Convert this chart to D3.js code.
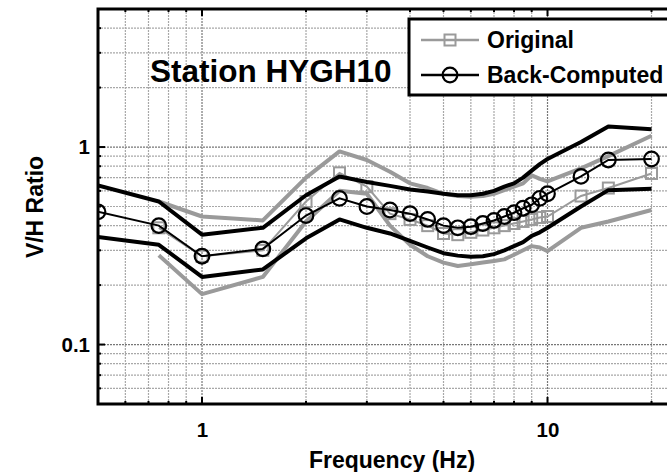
<!DOCTYPE html>
<html>
<head>
<meta charset="utf-8">
<script src="https://cdn.jsdelivr.net/npm/d3@7"></script>
<style>
  html, body { margin: 0; padding: 0; background: #fff; overflow: hidden; }
  svg { display: block; font-family: "Liberation Sans", Arial, Helvetica, sans-serif; font-weight: bold; }
</style>
</head>
<body>
<svg id="chart" width="667" height="472"></svg>
<script>
// Frequencies (Hz) of the back-computed V/H ratios
const freqBack = [0.5, 0.75, 1, 1.5, 2, 2.5, 3, 3.5, 4, 4.5, 5, 5.5, 6, 6.5, 7, 7.5, 8, 8.5, 9, 9.5, 10, 12.5, 15, 20];
const backComputed = [0.47, 0.40, 0.28, 0.305, 0.45, 0.55, 0.50, 0.48, 0.46, 0.43, 0.40, 0.39, 0.395, 0.41, 0.425, 0.445, 0.465, 0.49, 0.51, 0.55, 0.58, 0.71, 0.86, 0.87];
const backUpper = [0.64, 0.53, 0.36, 0.39, 0.57, 0.71, 0.665, 0.636, 0.61, 0.595, 0.58, 0.57, 0.57, 0.58, 0.60, 0.63, 0.655, 0.70, 0.76, 0.82, 0.87, 1.06, 1.27, 1.23];
const backLower = [0.35, 0.32, 0.22, 0.24, 0.345, 0.43, 0.39, 0.365, 0.335, 0.31, 0.29, 0.282, 0.278, 0.28, 0.287, 0.30, 0.315, 0.33, 0.355, 0.37, 0.39, 0.50, 0.605, 0.615];

// Frequencies (Hz) of the original V/H ratios
const freqOrig = [0.75, 1, 1.5, 2, 2.5, 3, 3.5, 4, 4.5, 5, 5.5, 6, 6.5, 7, 7.5, 8, 8.5, 9, 9.5, 10, 12.5, 15, 20];
const original = [0.39, 0.28, 0.30, 0.53, 0.74, 0.63, 0.46, 0.43, 0.40, 0.365, 0.36, 0.37, 0.38, 0.39, 0.40, 0.41, 0.42, 0.43, 0.44, 0.445, 0.565, 0.62, 0.735];
const origUpper = [0.53, 0.445, 0.425, 0.70, 0.95, 0.86, 0.75, 0.655, 0.62, 0.58, 0.565, 0.56, 0.565, 0.58, 0.605, 0.63, 0.655, 0.72, 0.69, 0.67, 0.78, 0.90, 1.14];
const origLower = [0.283, 0.18, 0.22, 0.42, 0.60, 0.58, 0.40, 0.32, 0.28, 0.26, 0.25, 0.255, 0.26, 0.265, 0.27, 0.285, 0.30, 0.315, 0.31, 0.297, 0.39, 0.42, 0.48];

// Axis ticks
const xTickValues = [1, 10];
const yTickValues = [0.1, 1];
const xMinor = [0.6, 0.7, 0.8, 0.9, 2, 3, 4, 5, 6, 7, 8, 9, 20];
const yMinor = [0.06, 0.07, 0.08, 0.09, 0.2, 0.3, 0.4, 0.5, 0.6, 0.7, 0.8, 0.9, 2, 3, 4];

const titleText = "Station HYGH10";
const legendLabels = ["Original", "Back-Computed"];

const GRAY = "#9a9a9a";
const svg = d3.select("#chart");

const plot = { left: 98, right: 685, top: 9, bottom: 404 };
const x = d3.scaleLog().domain([0.5, 25]).range([plot.left, plot.right]);
const y = d3.scaleLog().domain([0.05, 5]).range([plot.bottom, plot.top]);

const defs = svg.append("defs");
defs.append("clipPath").attr("id", "plotClip")
  .append("rect")
  .attr("x", plot.left).attr("y", plot.top)
  .attr("width", plot.right - plot.left).attr("height", plot.bottom - plot.top);

// Grid
const grid = svg.append("g").attr("clip-path", "url(#plotClip)");
grid.selectAll(".vgrid").data(xMinor.concat(xTickValues)).join("line")
  .attr("x1", d => x(d)).attr("x2", d => x(d))
  .attr("y1", plot.top).attr("y2", plot.bottom)
  .attr("stroke", d => xTickValues.includes(d) ? "#777" : "#a8a8a8")
  .attr("stroke-width", 1.2)
  .attr("stroke-dasharray", "2,1");
grid.selectAll(".hgrid").data(yMinor.concat(yTickValues)).join("line")
  .attr("y1", d => y(d)).attr("y2", d => y(d))
  .attr("x1", plot.left).attr("x2", plot.right)
  .attr("stroke", d => yTickValues.includes(d) ? "#777" : "#a8a8a8")
  .attr("stroke-width", 1.2)
  .attr("stroke-dasharray", "2,1");

// Series
const series = svg.append("g").attr("clip-path", "url(#plotClip)");
const lineOf = (xs) => d3.line().x((d, i) => x(xs[i])).y(d => y(d));

series.append("path").datum(origUpper).attr("d", lineOf(freqOrig))
  .attr("fill", "none").attr("stroke", GRAY).attr("stroke-width", 4).attr("stroke-linejoin", "round");
series.append("path").datum(origLower).attr("d", lineOf(freqOrig))
  .attr("fill", "none").attr("stroke", GRAY).attr("stroke-width", 4).attr("stroke-linejoin", "round");
series.append("path").datum(original).attr("d", lineOf(freqOrig))
  .attr("fill", "none").attr("stroke", GRAY).attr("stroke-width", 2);
series.selectAll(".sq").data(original).join("rect")
  .attr("x", (d, i) => x(freqOrig[i]) - 5.5).attr("y", d => y(d) - 5.5)
  .attr("width", 11).attr("height", 11)
  .attr("fill", "none").attr("stroke", GRAY).attr("stroke-width", 2);

series.append("path").datum(backUpper).attr("d", lineOf(freqBack))
  .attr("fill", "none").attr("stroke", "#000").attr("stroke-width", 4).attr("stroke-linejoin", "round");
series.append("path").datum(backLower).attr("d", lineOf(freqBack))
  .attr("fill", "none").attr("stroke", "#000").attr("stroke-width", 4).attr("stroke-linejoin", "round");
series.append("path").datum(backComputed).attr("d", lineOf(freqBack))
  .attr("fill", "none").attr("stroke", "#000").attr("stroke-width", 2);
series.selectAll(".ci").data(backComputed).join("circle")
  .attr("cx", (d, i) => x(freqBack[i])).attr("cy", d => y(d))
  .attr("r", 7.3).attr("fill", "none").attr("stroke", "#000").attr("stroke-width", 2.2);

// Axes: inward ticks on the frame
const axisW = 3;
const bottomAxis = d3.axisBottom(x).tickValues(xTickValues).tickFormat(d3.format("~g")).tickSize(0).tickPadding(18);
const leftAxis = d3.axisLeft(y).tickValues(yTickValues).tickFormat(d3.format("~g")).tickSize(0).tickPadding(8);

const gx = svg.append("g").attr("transform", `translate(0,${plot.bottom})`).call(bottomAxis);
const gy = svg.append("g").attr("transform", `translate(${plot.left},0)`).call(leftAxis);
[gx, gy].forEach(g => {
  g.select(".domain").remove();
  g.selectAll("text").attr("font-size", 20.5).attr("font-weight", "bold")
    .attr("font-family", "'Liberation Sans', Arial, sans-serif").attr("fill", "#000");
});

const ticks = svg.append("g").attr("stroke", "#000");
xMinor.concat(xTickValues).forEach(v => {
  const len = xTickValues.includes(v) ? 7 : 3;
  ticks.append("line").attr("x1", x(v)).attr("x2", x(v))
    .attr("y1", plot.bottom).attr("y2", plot.bottom - len).attr("stroke-width", 2);
  ticks.append("line").attr("x1", x(v)).attr("x2", x(v))
    .attr("y1", plot.top).attr("y2", plot.top + len).attr("stroke-width", 2);
});
yMinor.concat(yTickValues).forEach(v => {
  const len = yTickValues.includes(v) ? 7 : 3;
  ticks.append("line").attr("y1", y(v)).attr("y2", y(v))
    .attr("x1", plot.left).attr("x2", plot.left + len).attr("stroke-width", 2);
});

// Frame
svg.append("path")
  .attr("d", `M${plot.right},${plot.top}H${plot.left}V${plot.bottom}H${plot.right}`)
  .attr("fill", "none").attr("stroke", "#000").attr("stroke-width", axisW);

// Axis titles
svg.append("text").attr("x", 392).attr("y", 468).attr("text-anchor", "middle")
  .attr("font-size", 23).text("Frequency (Hz)");
svg.append("text").attr("transform", "translate(43,207) rotate(-90)").attr("text-anchor", "middle")
  .attr("font-size", 23).text("V/H Ratio");

// Station title
svg.append("text").attr("x", 150).attr("y", 82).attr("font-size", 31.5).text(titleText);

// Legend
const lg = svg.append("g");
lg.append("rect").attr("x", 409).attr("y", 19).attr("width", 290).attr("height", 76)
  .attr("fill", "#fff").attr("stroke", "#000").attr("stroke-width", 3);
const rows = [
  { label: legendLabels[0], color: GRAY, cy: 40, marker: "square" },
  { label: legendLabels[1], color: "#000", cy: 75, marker: "circle" }
];
rows.forEach(r => {
  lg.append("line").attr("x1", 421).attr("x2", 479).attr("y1", r.cy).attr("y2", r.cy)
    .attr("stroke", r.color).attr("stroke-width", 2.5);
  if (r.marker === "square") {
    lg.append("rect").attr("x", 450 - 5.5).attr("y", r.cy - 5.5).attr("width", 11).attr("height", 11)
      .attr("fill", "none").attr("stroke", r.color).attr("stroke-width", 2);
  } else {
    lg.append("circle").attr("cx", 450).attr("cy", r.cy).attr("r", 7.3)
      .attr("fill", "none").attr("stroke", r.color).attr("stroke-width", 2.2);
  }
  lg.append("text").attr("x", 487).attr("y", r.cy + 8).attr("font-size", 23).text(r.label);
});
</script>
</body>
</html>
